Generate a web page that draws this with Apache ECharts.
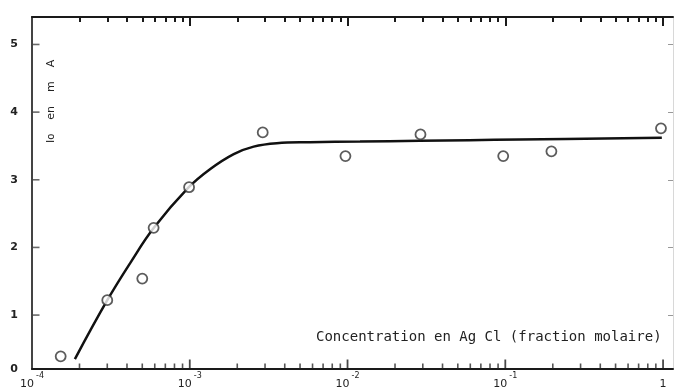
<!DOCTYPE html>
<html><head><meta charset="utf-8">
<script src="https://cdn.jsdelivr.net/npm/echarts@6/dist/echarts.min.js"></script>
<style>html,body{margin:0;padding:0;background:#fff}#c{width:677px;height:390px}</style>
</head><body><div id="c"></div>
<script>
// Measured points (open circles)
const pointX = [1.52e-4, 3.0e-4, 5.0e-4, 5.9e-4, 9.9e-4, 2.9e-3, 9.7e-3, 2.9e-2, 9.7e-2, 0.196, 0.97];
const pointY = [0.39, 1.22, 1.54, 2.29, 2.89, 3.70, 3.35, 3.67, 3.35, 3.42, 3.76];
// Fitted curve
const curveX = [1.87e-4, 3.0e-4, 4.22e-4, 5.92e-4, 9.86e-4, 1.35e-3, 1.90e-3, 2.54e-3, 3.56e-3, 5.78e-3, 1.2e-2, 2.86e-2, 5.93e-2, 0.1227, 0.982];
const curveY = [0.35, 1.22, 1.78, 2.29, 2.89, 3.16, 3.38, 3.49, 3.54, 3.555, 3.565, 3.575, 3.585, 3.595, 3.62];
// Axis ticks / labels
const xMajor = [1e-4, 1e-3, 1e-2, 1e-1, 1];
const xLabelBase = ['10', '10', '10', '10', '1'];
const xLabelExp = ['-4', '-3', '-2', '-1', ''];
const xDecades = [-4, -3, -2, -1];
const xMinorMult = [2, 3, 4, 5, 6, 7, 8, 9];
const yTicks = [1, 2, 3, 4, 5];
const yLabels = ['0', '1', '2', '3', '4', '5'];
const xTitle = 'Concentration en Ag Cl (fraction molaire)';
const yTitle = 'I{s|o}    en    m    A';

const X_MIN = 1e-4, X_MAX = 1.156, Y_MIN = 0.203, Y_MAX = 5.406;
const xMinor = [];
xDecades.forEach(d => xMinorMult.forEach(k => xMinor.push(k * Math.pow(10, d))));
const xMajorInner = xMajor.slice(1);

function majorIdx(v) {
  let best = 0, bd = Infinity;
  xMajor.forEach((m, i) => { const dd = Math.abs(Math.log10(v) - Math.log10(m)); if (dd < bd) { bd = dd; best = i; } });
  return best;
}

const chart = echarts.init(document.getElementById('c'));
const ink = '#1a1a1a';
const baseX = {type: 'log', logBase: 10, min: X_MIN, max: X_MAX, splitLine: {show: false}};
const noLine = {show: false, onZero: false};

// tick marks along the bottom and left edges, placed through the axes' scales
function tickSeries(data, size, offset, color) {
  return {
    type: 'scatter', xAxisIndex: 0, yAxisIndex: 0, silent: true, clip: false,
    symbol: 'rect', symbolSize: size, symbolOffset: offset,
    itemStyle: {color: color}, data: data, z: 6, tooltip: {show: false}
  };
}

chart.setOption({
  animation: false,
  grid: {left: 32, right: 4, top: 17, bottom: 20},
  xAxis: [
    Object.assign({}, baseX, {
      position: 'bottom',
      axisLine: {show: true, onZero: false, lineStyle: {color: ink, width: 2}},
      axisTick: {show: false},
      axisLabel: {
        show: true, margin: 3, customValues: xMajor,
        formatter: v => { const i = majorIdx(v); return xLabelExp[i] ? '{b|' + xLabelBase[i] + '}{s|' + xLabelExp[i] + '}' : '{b|' + xLabelBase[i] + '}'; },
        rich: {
          b: {fontFamily: 'DejaVu Sans', fontSize: 11, color: '#222', lineHeight: 18, verticalAlign: 'bottom'},
          s: {fontFamily: 'DejaVu Sans', fontSize: 8, color: '#222', lineHeight: 10, verticalAlign: 'top', padding: [0, 0, 0, 2]}
        }
      }
    }),
    Object.assign({}, baseX, {
      position: 'top',
      axisLine: {show: true, onZero: false, lineStyle: {color: ink, width: 2}},
      axisTick: {show: true, inside: true, length: 9, customValues: xMajorInner, lineStyle: {color: ink, width: 2}},
      axisLabel: {show: false}
    }),
    Object.assign({}, baseX, {
      position: 'top', axisLine: noLine,
      axisTick: {show: true, inside: true, length: 5, customValues: xMinor, lineStyle: {color: ink, width: 2}},
      axisLabel: {show: false}
    })
  ],
  yAxis: [
    {
      type: 'value', min: Y_MIN, max: Y_MAX, position: 'left',
      splitLine: {show: false},
      axisLine: {show: true, onZero: false, lineStyle: {color: '#444', width: 2}},
      axisTick: {show: false},
      axisLabel: {
        show: true, margin: 14, customValues: [Y_MIN].concat(yTicks),
        formatter: v => yLabels[v < 0.5 ? 0 : Math.round(v)],
        fontFamily: 'DejaVu Sans', fontSize: 11, fontWeight: 'bold', color: '#222'
      }
    },
    {
      type: 'value', min: Y_MIN, max: Y_MAX, position: 'right',
      splitLine: {show: false},
      axisLine: {show: true, onZero: false, lineStyle: {color: '#d8d8d8', width: 1}},
      axisTick: {show: true, inside: true, length: 5, customValues: yTicks, lineStyle: {color: '#999', width: 1}},
      axisLabel: {show: false}
    }
  ],
  graphic: [
    {type: 'text', left: 316, top: 330, style: {text: xTitle, fontFamily: 'DejaVu Sans Mono', fontSize: 14, fill: '#222'}},
    {type: 'text', x: 46, y: 143, rotation: Math.PI / 2,
     style: {text: yTitle, fontFamily: 'DejaVu Sans', fontSize: 11, fill: '#222',
       rich: {s: {fontFamily: 'DejaVu Sans', fontSize: 10, fill: '#222'}}}}
  ],
  series: [
    {
      type: 'line', xAxisIndex: 0, yAxisIndex: 0, smooth: 0.4, symbol: 'none',
      lineStyle: {color: '#111', width: 2.5},
      data: curveX.map((x, i) => [x, curveY[i]]), z: 2
    },
    {
      type: 'scatter', xAxisIndex: 0, yAxisIndex: 0, symbol: 'circle', symbolSize: 10,
      itemStyle: {color: '#fff', borderColor: '#333', borderWidth: 1.8},
      data: pointX.map((x, i) => [x, pointY[i]]), z: 3
    },
    tickSeries(xMinor.map(v => [v, Y_MIN]), [1.6, 5], [0, -3], '#2a2a2a'),
    tickSeries(xMajorInner.map(v => [v, Y_MIN]), [1.8, 9], [0, -5], ink),
    tickSeries(yTicks.map(v => [X_MIN, v]), [7, 1.6], [4, 0], '#444')
  ]
});
</script></body></html>
